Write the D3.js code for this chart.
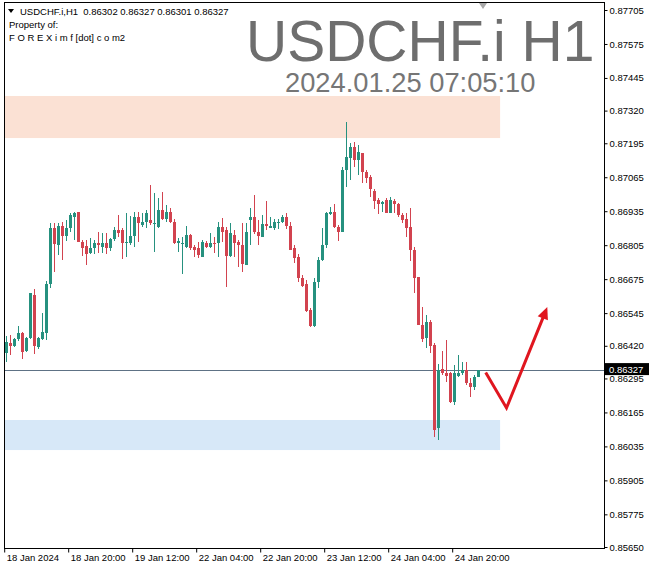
<!DOCTYPE html>
<html>
<head>
<meta charset="utf-8">
<script src="https://cdn.jsdelivr.net/npm/d3@7/dist/d3.min.js"></script>
<style>
  html, body { margin: 0; padding: 0; background: #ffffff; }
  svg { display: block; }
  text { font-family: "Liberation Sans", Arial, sans-serif; }
</style>
</head>
<body>
<svg id="chart" width="652" height="572"></svg>
<script>
// ---------------- DATA ----------------
const symbolTitle = "USDCHF.i H1";
const timeStamp = "2024.01.25 07:05:10";
const headerLine = "USDCHF.i,H1  0.86302 0.86327 0.86301 0.86327";
const headerLine2 = "Property of:";
const headerLine3 = "F O R E X i m f [dot] c o m2";

const open = [
0.86391,0.86430,0.86420,0.86445,0.86468,0.86400,0.86451,0.86614,0.86417,0.86445,
0.86468,0.86655,0.86870,0.86806,0.86878,0.86840,0.86870,0.86914,0.86931,0.86818,
0.86802,0.86774,0.86793,0.86812,0.86799,0.86815,0.86793,0.86828,0.86863,0.86863,
0.86812,0.86812,0.86840,0.86914,0.86882,0.86895,0.86901,0.86885,0.86876,0.86940,
0.86904,0.86933,0.86895,0.86812,0.86808,0.86799,0.86844,0.86799,0.86793,0.86761,
0.86815,0.86799,0.86815,0.86815,0.86876,0.86863,0.86764,0.86844,0.86818,0.86806,
0.86729,0.86901,0.86914,0.86857,0.86838,0.86886,0.86872,0.86870,0.86889,0.86893,
0.86914,0.86878,0.86793,0.86761,0.86678,0.86655,0.86557,0.86497,0.86665,0.86748,
0.86806,0.86923,0.86933,0.86876,0.86857,0.87093,0.87140,0.87180,0.87131,0.87157,
0.87084,0.87065,0.87014,0.86978,0.86963,0.86978,0.86929,0.86975,0.86963,0.86921,
0.86905,0.86873,0.86787,0.86682,0.86500,0.86449,0.86512,0.86423,0.86104,0.86330,
0.86315,0.86315,0.86206,0.86304,0.86315,0.86327,0.86279,0.86263,0.86302];

const high = [
0.86457,0.86461,0.86449,0.86497,0.86474,0.86455,0.86623,0.86636,0.86455,0.86547,
0.86668,0.86891,0.86889,0.86891,0.86895,0.86901,0.86927,0.86931,0.86933,0.86825,
0.86825,0.86831,0.86825,0.86854,0.86850,0.86850,0.86831,0.86876,0.86921,0.86872,
0.86927,0.86917,0.86931,0.86931,0.86929,0.86940,0.87037,0.87004,0.86984,0.87010,
0.86959,0.86946,0.86904,0.86831,0.86838,0.86880,0.86848,0.86806,0.86818,0.86825,
0.86822,0.86853,0.86838,0.86895,0.86908,0.86876,0.86889,0.86863,0.86825,0.86889,
0.86891,0.86946,0.86997,0.86901,0.86921,0.86974,0.86914,0.86905,0.86905,0.86921,
0.86927,0.86895,0.86806,0.86770,0.86691,0.86672,0.86563,0.86678,0.86761,0.86870,
0.86933,0.86952,0.86961,0.86882,0.87105,0.87278,0.87195,0.87201,0.87188,0.87159,
0.87093,0.87074,0.87019,0.86984,0.86974,0.86984,0.86988,0.86982,0.86968,0.86927,
0.86927,0.86946,0.86799,0.86684,0.86570,0.86538,0.86519,0.86430,0.86350,0.86401,
0.86442,0.86321,0.86346,0.86385,0.86359,0.86359,0.86296,0.86308,0.86327];

const low = [
0.86359,0.86385,0.86417,0.86439,0.86368,0.86397,0.86447,0.86387,0.86407,0.86442,
0.86442,0.86640,0.86701,0.86767,0.86748,0.86821,0.86857,0.86825,0.86816,0.86765,
0.86729,0.86771,0.86771,0.86774,0.86774,0.86771,0.86784,0.86821,0.86838,0.86752,
0.86761,0.86806,0.86799,0.86818,0.86876,0.86870,0.86882,0.86780,0.86870,0.86901,
0.86895,0.86891,0.86808,0.86778,0.86695,0.86793,0.86787,0.86761,0.86755,0.86759,
0.86793,0.86793,0.86774,0.86761,0.86818,0.86646,0.86761,0.86761,0.86723,0.86701,
0.86729,0.86806,0.86848,0.86806,0.86835,0.86863,0.86870,0.86863,0.86866,0.86889,
0.86866,0.86787,0.86736,0.86665,0.86646,0.86550,0.86491,0.86491,0.86640,0.86746,
0.86793,0.86921,0.86870,0.86821,0.86857,0.87027,0.87054,0.87103,0.87074,0.87042,
0.87042,0.86991,0.86944,0.86924,0.86933,0.86927,0.86927,0.86927,0.86914,0.86889,
0.86835,0.86746,0.86621,0.86500,0.86436,0.86410,0.86391,0.86072,0.86059,0.86308,
0.86283,0.86200,0.86193,0.86299,0.86308,0.86270,0.86225,0.86251,0.86301];

const close = [
0.86436,0.86420,0.86445,0.86468,0.86397,0.86449,0.86621,0.86420,0.86451,0.86474,
0.86655,0.86870,0.86808,0.86878,0.86840,0.86870,0.86921,0.86927,0.86818,0.86793,
0.86771,0.86793,0.86812,0.86806,0.86812,0.86793,0.86828,0.86863,0.86850,0.86812,
0.86817,0.86840,0.86914,0.86889,0.86895,0.86929,0.86889,0.86891,0.86940,0.86904,
0.86931,0.86895,0.86812,0.86821,0.86812,0.86844,0.86793,0.86787,0.86767,0.86818,
0.86799,0.86815,0.86812,0.86876,0.86854,0.86764,0.86850,0.86812,0.86806,0.86733,
0.86857,0.86914,0.86854,0.86841,0.86886,0.86878,0.86878,0.86893,0.86895,0.86912,
0.86878,0.86787,0.86757,0.86678,0.86650,0.86553,0.86497,0.86665,0.86748,0.86806,
0.86927,0.86933,0.86876,0.86857,0.87093,0.87144,0.87180,0.87131,0.87163,0.87084,
0.87061,0.87019,0.86975,0.86963,0.86971,0.86929,0.86978,0.86963,0.86921,0.86901,
0.86870,0.86787,0.86678,0.86500,0.86445,0.86512,0.86419,0.86098,0.86327,0.86315,
0.86304,0.86206,0.86315,0.86317,0.86327,0.86276,0.86263,0.86302,0.86327];

const currentPrice = 0.86327;

const priceTicks = [0.87705,0.87575,0.87445,0.87320,0.87195,0.87065,0.86935,0.86805,
  0.86675,0.86545,0.86420,0.86295,0.86165,0.86035,0.85905,0.85775,0.85650];

const timeTickIndex = [0,16,32,48,64,80,96,112];
const timeTickLabels = ["18 Jan 2024","18 Jan 20:00","19 Jan 12:00","22 Jan 04:00",
  "22 Jan 20:00","23 Jan 12:00","24 Jan 04:00","24 Jan 20:00"];

// zones (bar index range, price range)
const supplyZone = {i0: -2, i1: 123.6, pTop: 0.87376, pBot: 0.87215};
const demandZone = {i0: -2, i1: 123.6, pTop: 0.86136, pBot: 0.86021};

// forecast arrow (bar index, price)
const arrowPoints = [
  {i: 120.0, p: 0.86318},
  {i: 125.2, p: 0.86182},
  {i: 135.4, p: 0.86568}
];

// ---------------- LAYOUT ----------------
const plotLeft = 4, plotRight = 604, plotTop = 2, plotBottom = 548;
const colors = {
  bull: "#26917f",
  bear: "#d2434f",
  supply: "#fbe1d4",
  demand: "#d7e8f8",
  priceLine: "#5e7285",
  arrow: "#e0161f",
  title: "#6e6e6e"
};

const svg = d3.select("#chart");

const x = d3.scaleLinear().domain([0, 118]).range([5.7, 477.7]);
const y = d3.scaleLinear().domain([0.85650, 0.87705]).range([547, 10]);

svg.append("rect").attr("x",0).attr("y",0).attr("width",652).attr("height",572).attr("fill","#fff");

svg.append("defs").append("clipPath").attr("id","plotclip")
  .append("rect").attr("x",plotLeft+1).attr("y",plotTop+1)
  .attr("width",plotRight-plotLeft-1).attr("height",plotBottom-plotTop-1);

const plot = svg.append("g").attr("clip-path","url(#plotclip)");

// zones
[[supplyZone, colors.supply],[demandZone, colors.demand]].forEach(([z,c]) => {
  plot.append("rect")
    .attr("x", x(z.i0)).attr("width", x(z.i1)-x(z.i0))
    .attr("y", y(z.pTop)).attr("height", y(z.pBot)-y(z.pTop))
    .attr("fill", c);
});

// big title
plot.append("text").attr("x",246).attr("y",61)
  .attr("font-size",57).attr("fill",colors.title).text(symbolTitle);
plot.append("text").attr("x",285).attr("y",92)
  .attr("font-size",27.3).attr("fill","#767676").text(timeStamp);

// current price line
plot.append("line")
  .attr("x1",plotLeft).attr("x2",plotRight)
  .attr("y1",Math.round(y(currentPrice))+0.5).attr("y2",Math.round(y(currentPrice))+0.5)
  .attr("stroke",colors.priceLine).attr("stroke-width",1);

// candles
const bars = open.map((o,i)=>({i, o, h: high[i], l: low[i], c: close[i]}));
const cg = plot.append("g").attr("shape-rendering","crispEdges");
const candle = cg.selectAll("g.c").data(bars).join("g").attr("class","c");
candle.append("line")
  .attr("x1", d=>Math.round(x(d.i))+0.5).attr("x2", d=>Math.round(x(d.i))+0.5)
  .attr("y1", d=>y(d.h)).attr("y2", d=>y(d.l))
  .attr("stroke", d=> d.c>=d.o ? colors.bull : colors.bear).attr("stroke-width",1);
candle.append("rect")
  .attr("x", d=>Math.round(x(d.i))-1).attr("width",3)
  .attr("y", d=>y(Math.max(d.o,d.c)))
  .attr("height", d=>Math.max(1, Math.abs(y(d.o)-y(d.c))))
  .attr("fill", d=> d.c>=d.o ? colors.bull : colors.bear);

// arrow
const ap = arrowPoints.map(d=>[x(d.i), y(d.p)]);
const headLen = 12, headW = 11;
const last = ap[ap.length-1], prev = ap[ap.length-2];
const ang = Math.atan2(last[1]-prev[1], last[0]-prev[0]);
const baseX = last[0]-headLen*Math.cos(ang), baseY = last[1]-headLen*Math.sin(ang);
const linePts = ap.slice(0,-1).concat([[baseX+2*Math.cos(ang), baseY+2*Math.sin(ang)]]);
plot.append("path").attr("d", d3.line()(linePts))
  .attr("fill","none").attr("stroke",colors.arrow).attr("stroke-width",3)
  .attr("stroke-linejoin","miter").attr("stroke-linecap","butt");
const nx = -Math.sin(ang), ny = Math.cos(ang);
plot.append("path")
  .attr("d", `M${last[0]},${last[1]}L${baseX+nx*headW/2},${baseY+ny*headW/2}L${baseX-nx*headW/2},${baseY-ny*headW/2}Z`)
  .attr("fill",colors.arrow);

// frame
svg.append("rect").attr("x",plotLeft+0.5).attr("y",plotTop+0.5)
  .attr("width",plotRight-plotLeft).attr("height",plotBottom-plotTop)
  .attr("fill","none").attr("stroke","#000").attr("stroke-width",1)
  .attr("shape-rendering","crispEdges");

// small shift marker
svg.append("path").attr("d","M479,3L487,3L483,9Z").attr("fill","#a8a8a8");

// right axis
const yAxis = d3.axisRight(y).tickValues(priceTicks).tickSize(3).tickPadding(2)
  .tickFormat(d3.format(".5f"));
const ya = svg.append("g").attr("transform",`translate(${plotRight+0.5},0)`).call(yAxis);
ya.select(".domain").remove();
ya.selectAll("text").attr("font-size",9.5).attr("fill","#000")
  .style("font-family","'Liberation Sans', Arial, sans-serif");
ya.selectAll("line").attr("stroke","#000");

// bottom axis
const xAxis = d3.axisBottom(x).tickValues(timeTickIndex).tickSize(4)
  .tickFormat((d,i)=>timeTickLabels[i]);
const xa = svg.append("g").attr("transform",`translate(-1.5,${plotBottom+0.5})`).call(xAxis);
xa.select(".domain").remove();
xa.selectAll("text").attr("font-size",9.5).attr("fill","#000")
  .attr("text-anchor","start").attr("dx",2).attr("dy","0.55em")
  .style("font-family","'Liberation Sans', Arial, sans-serif");
xa.selectAll("line").attr("stroke","#000");

// current price label on axis
const cpY = y(currentPrice);
svg.append("rect").attr("x",plotRight+1).attr("y",cpY-7).attr("width",44).attr("height",12)
  .attr("fill","#000");
svg.append("text").attr("x",plotRight+5).attr("y",cpY+3)
  .attr("font-size",9.5).attr("fill","#fff").text(d3.format(".5f")(currentPrice));

// header
svg.append("path").attr("d","M8,9L14,9L11,13Z").attr("fill","#000");
svg.append("text").attr("x",20).attr("y",15).attr("font-size",9.5).attr("fill","#000")
  .attr("xml:space","preserve").style("white-space","pre").text(headerLine);
svg.append("text").attr("x",9).attr("y",28).attr("font-size",9.5).attr("fill","#000").text(headerLine2);
svg.append("text").attr("x",9).attr("y",41).attr("font-size",9.5).attr("fill","#000").text(headerLine3);
</script>
</body>
</html>
